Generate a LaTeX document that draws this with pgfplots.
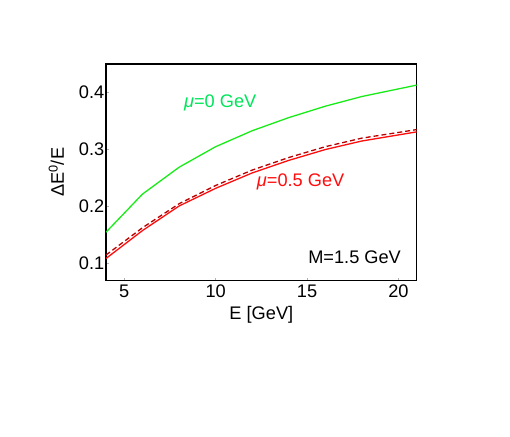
\documentclass[border=0pt]{standalone}
\usepackage{fontspec}
\setmainfont{Liberation Sans}
\usepackage{pgfplots}
\pgfplotsset{compat=1.18}
\definecolor{mygreen}{rgb}{0.1,0.92,0.1}
\definecolor{labgreen}{rgb}{0.0,0.9,0.35}
\definecolor{myred}{rgb}{1,0.05,0.05}
\definecolor{dkred}{rgb}{0.72,0,0}
\begin{document}
\begin{tikzpicture}
\path[use as bounding box] (-106pt,-155.3pt) rectangle (404pt,280.7pt);
\begin{axis}[
  at={(0,0)}, anchor=south west,
  scale only axis, width=310.7pt, height=216.7pt,
  xmin=4, xmax=21, ymin=0.07, ymax=0.45,
  xtick={5,10,15,20}, ytick={0.1,0.2,0.3,0.4},
  /pgf/number format/assume math mode=true,
  /pgf/number format/fixed, /pgf/number format/precision=1,
  font=\fontsize{18.2}{21}\selectfont,
  tick align=inside, major tick length=3pt,
  tick style={gray!60, line width=0.6pt},
  xtick pos=bottom, ytick pos=left,
  axis line style={line width=1.3pt, black},
  yticklabel style={inner sep=1.5pt},
  xticklabel style={inner sep=4pt},
  xlabel={E [GeV]}, ylabel={ΔE\textsuperscript{0}/E},
  xlabel style={yshift=-1pt},
  ylabel style={yshift=10pt},
  clip=true,
]
\addplot[mygreen, line width=1.3pt] coordinates {
(4,0.155) (6,0.222) (8,0.269) (10,0.305) (12,0.333) (14,0.356) (16,0.376) (18,0.393) (21,0.413)};
\addplot[dkred, line width=1.3pt, dashed, dash pattern=on 5pt off 3pt] coordinates {
(4,0.115) (6,0.163) (8,0.205) (10,0.237) (12,0.264) (14,0.286) (16,0.305) (18,0.320) (21,0.335)};
\addplot[myred, line width=1.3pt] coordinates {
(4,0.109) (6,0.158) (8,0.201) (10,0.232) (12,0.259) (14,0.281) (16,0.300) (18,0.315) (21,0.331)};
\node[labgreen] at (axis cs:10.25,0.3825) {\textit{μ}=0 GeV};
\node[myred] at (axis cs:14.65,0.2425) {\textit{μ}=0.5 GeV};
\node[black] at (axis cs:17.6,0.1103) {M=1.5 GeV};
\end{axis}
\end{tikzpicture}
\end{document}
